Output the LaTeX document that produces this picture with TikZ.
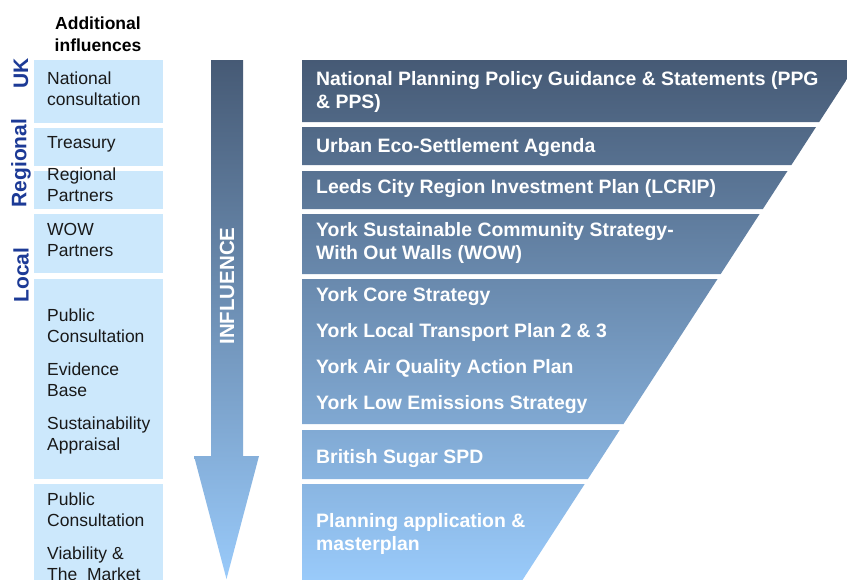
\documentclass[tikz,border=0pt]{standalone}
\usepackage{fontspec}
\setmainfont{Liberation Sans}
\definecolor{dark}{RGB}{70,90,117}
\definecolor{light}{RGB}{153,202,250}
\definecolor{side}{RGB}{204,232,252}
\definecolor{lab}{RGB}{28,58,150}
\definecolor{txt}{RGB}{25,25,25}
\begin{document}
\begin{tikzpicture}[x=1pt,y=-1pt,
  sidetxt/.style={anchor=north west, align=left, inner sep=0pt, font=\fontsize{17.5}{21}\selectfont, text=txt},
  bigtxt/.style={anchor=north west, align=left, inner sep=0pt, font=\bfseries\fontsize{19.4}{23.5}\selectfont, text=white},
  levtxt/.style={rotate=90, inner sep=0pt, font=\bfseries\fontsize{21}{25}\selectfont, text=lab},
  headtxt/.style={align=center, inner sep=0pt, font=\bfseries\fontsize{17.5}{22}\selectfont, text=black},
  sidebox/.style={fill=side}]
\useasboundingbox (0,0) rectangle (847,579);
\fill[white] (0,0) rectangle (847,579);

% header
\node[headtxt, anchor=north] (head) at (98,17) {Additional\\influences};

% level labels
\node[levtxt] (uk) at (21,73) {UK};
\node[levtxt] (regional) at (21,163) {Regional};
\node[levtxt] (local) at (21,275) {Local};

% left boxes
\fill[sidebox] (34,60) rectangle (163,123);
\fill[sidebox] (34,128) rectangle (163,166);
\fill[sidebox] (34,171) rectangle (163,209);
\fill[sidebox] (34,214) rectangle (163,273);
\fill[sidebox] (34,279) rectangle (163,479);
\fill[sidebox] (34,484) rectangle (163,590);

\node[sidetxt] (natcons) at (47,72) {National\\consultation};
\node[sidetxt] (treasury) at (47,136) {Treasury};
\node[sidetxt] (regpart) at (47,168) {Regional\\Partners};
\node[sidetxt] (wowpart) at (47,223) {WOW\\Partners};
\node[sidetxt] (localA) at (47,309) {Public\\Consultation\\[12pt]Evidence\\Base\\[12pt]Sustainability\\Appraisal};
\node[sidetxt] (localB) at (47,493) {Public\\Consultation\\[12pt]Viability \&\\The~ Market};

% influence arrow
\begin{scope}
\clip (211,60) -- (243,60) -- (243,456) -- (259,456) -- (226.5,579) -- (194,456) -- (211,456) -- cycle;
\shade[top color=dark, bottom color=light] (190,60) rectangle (262,579);
\end{scope}
\node[rotate=90, inner sep=0pt, font=\bfseries\fontsize{20.5}{24}\selectfont, text=white] (influence) at (227,286) {INFLUENCE};

% funnel
\begin{scope}
\clip (302,60) -- (859.4,60) -- (819.2,122) -- (302,122) -- cycle
      (302,127) -- (816,127) -- (791.4,165) -- (302,165) -- cycle
      (302,171) -- (787.5,171) -- (762.9,209) -- (302,209) -- cycle
      (302,214) -- (759.6,214) -- (720.7,274) -- (302,274) -- cycle
      (302,279) -- (717.5,279) -- (623.5,424) -- (302,424) -- cycle
      (302,430) -- (619.7,430) -- (587.9,479) -- (302,479) -- cycle
      (302,484) -- (584.7,484) -- (516,590) -- (302,590) -- cycle;
\shade[top color=dark, bottom color=light] (302,60) rectangle (870,579);
\end{scope}

\node[bigtxt] (npp) at (316,71) {National Planning Policy Guidance \& Statements (PPG\\\& PPS)};
\node[bigtxt] (urban) at (316,138) {Urban Eco-Settlement Agenda};
\node[bigtxt] (leeds) at (316,179) {Leeds City Region Investment Plan (LCRIP)};
\node[bigtxt] (yscs) at (316,222) {York Sustainable Community Strategy-\\With Out Walls (WOW)};
\node[bigtxt] (york) at (316,287) {York Core Strategy\\[12.5pt]York Local Transport Plan 2 \& 3\\[12.5pt]York Air Quality Action Plan\\[12.5pt]York Low Emissions Strategy};
\node[bigtxt] (sugar) at (316,449) {British Sugar SPD};
\node[bigtxt] (planapp) at (316,513) {Planning application \&\\masterplan};
\end{tikzpicture}
\end{document}
